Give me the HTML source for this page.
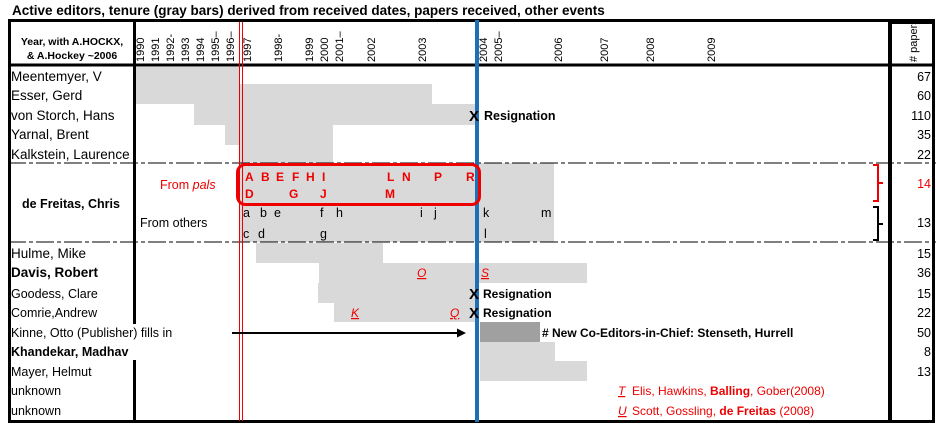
<!DOCTYPE html>
<html><head><style>
html,body{margin:0;padding:0;background:#fff;}
svg{display:block;}
text{font-family:"Liberation Sans",sans-serif;}
</style></head><body>
<svg width="936" height="425" viewBox="0 0 936 425" xmlns="http://www.w3.org/2000/svg">
<text x="12" y="15" font-size="13.5" font-weight="bold">Active editors, tenure (gray bars)  derived from received dates, papers received, other events</text>
<g fill="#d9d9d9">
<rect x="135" y="67" width="105" height="18"/>
<rect x="135" y="84" width="297" height="20"/>
<rect x="194" y="104" width="282" height="21"/>
<rect x="225" y="125" width="108" height="20"/>
<rect x="240" y="145" width="93" height="18"/>
<rect x="240" y="163" width="314" height="79"/>
<rect x="256" y="243" width="127" height="20"/>
<rect x="319" y="263" width="268" height="20"/>
<rect x="318" y="283" width="158" height="20"/>
<rect x="334" y="303" width="142" height="19"/>
<rect x="480" y="342" width="75" height="19"/>
<rect x="480" y="361" width="107" height="20"/>
</g>
<rect x="480" y="322" width="60" height="20" fill="#a0a0a0"/>
<line x1="8" y1="163" x2="936" y2="163" stroke="#000" stroke-width="1" stroke-dasharray="18,3,4,3"/>
<line x1="8" y1="242" x2="936" y2="242" stroke="#000" stroke-width="1" stroke-dasharray="18,3,4,3"/>
<rect x="9.5" y="20.5" width="924" height="401" fill="none" stroke="#000" stroke-width="3"/>
<line x1="134.5" y1="20" x2="134.5" y2="422" stroke="#000" stroke-width="3"/>
<line x1="890" y1="20" x2="890" y2="422" stroke="#000" stroke-width="4"/>
<line x1="9" y1="65" x2="934" y2="65" stroke="#000" stroke-width="3"/>
<line x1="239.5" y1="22" x2="239.5" y2="421" stroke="#e00" stroke-width="1"/>
<line x1="242.5" y1="22" x2="242.5" y2="421" stroke="#e00" stroke-width="1"/>
<line x1="477" y1="20" x2="477" y2="422" stroke="#1f6fb4" stroke-width="4"/>
<text x="72" y="45" font-size="10.5" font-weight="bold" text-anchor="middle">Year, with A.HOCKX,</text>
<text x="72" y="59" font-size="10.5" font-weight="bold" text-anchor="middle">&amp; A.Hockey ~2006</text>
<g font-size="11">
<text transform="translate(144,62) rotate(-90)">1990</text>
<text transform="translate(159,62) rotate(-90)">1991</text>
<text transform="translate(174,62) rotate(-90)">1992-</text>
<text transform="translate(189,62) rotate(-90)">1993</text>
<text transform="translate(204,62) rotate(-90)">1994</text>
<text transform="translate(219,62) rotate(-90)">1995–</text>
<text transform="translate(234,62) rotate(-90)">1996–</text>
<text transform="translate(251,62) rotate(-90)">1997</text>
<text transform="translate(282,62) rotate(-90)">1998-</text>
<text transform="translate(313,62) rotate(-90)">1999</text>
<text transform="translate(328,62) rotate(-90)">2000</text>
<text transform="translate(343,62) rotate(-90)">2001–</text>
<text transform="translate(375,62) rotate(-90)">2002</text>
<text transform="translate(426,62) rotate(-90)">2003</text>
<text transform="translate(487,62) rotate(-90)">2004</text>
<text transform="translate(502,62) rotate(-90)">2005–</text>
<text transform="translate(562,62) rotate(-90)">2006</text>
<text transform="translate(608,62) rotate(-90)">2007</text>
<text transform="translate(654,62) rotate(-90)">2008</text>
<text transform="translate(715,62) rotate(-90)">2009</text>
<text transform="translate(917,62) rotate(-90)"># papers</text>
</g>
<rect x="892" y="22" width="40" height="2" fill="#000"/>
<g font-size="13.5">
<text x="11" y="81">Meentemyer, V</text>
<text x="11" y="100">Esser, Gerd</text>
<text x="11" y="120">von Storch, Hans</text>
<text x="11" y="139">Yarnal, Brent</text>
<text x="11" y="159">Kalkstein, Laurence</text>
<text x="11" y="258">Hulme, Mike</text>
<text x="11" y="277" font-weight="bold">Davis, Robert</text>
</g>
<rect x="133" y="324" width="60" height="36" fill="#fff"/>
<g font-size="12.5">
<text x="11" y="298">Goodess, Clare</text>
<text x="11" y="317">Comrie,Andrew</text>
<text x="11" y="337">Kinne, Otto (Publisher) fills in</text>
<text x="11" y="356" font-weight="bold">Khandekar, Madhav</text>
<text x="11" y="376">Mayer, Helmut</text>
<text x="11" y="395">unknown</text>
<text x="11" y="415">unknown</text>
</g>
<text x="22" y="208" font-size="12.5" font-weight="bold">de Freitas, Chris</text>
<text x="160" y="189" font-size="12.5" fill="#e00">From <tspan font-style="italic">pals</tspan></text>
<text x="140" y="227" font-size="12.5">From others</text>
<rect x="237.5" y="164.5" width="242" height="40" rx="8" fill="none" stroke="#e00" stroke-width="3"/>
<g font-size="12" font-weight="bold" fill="#e00">
<text x="245" y="181">A</text><text x="261" y="181">B</text><text x="276" y="181">E</text><text x="292" y="181">F</text><text x="306" y="181">H</text><text x="322" y="181">I</text><text x="387" y="181">L</text><text x="402" y="181">N</text><text x="434" y="181">P</text><text x="466" y="181">R</text>
<text x="245" y="198">D</text><text x="289" y="198">G</text><text x="320" y="198">J</text><text x="385" y="198">M</text>
</g>
<g font-size="12.5">
<text x="243" y="217">a</text><text x="260" y="217">b</text><text x="274" y="217">e</text><text x="320" y="217">f</text><text x="336" y="217">h</text><text x="420" y="217">i</text><text x="434" y="217">j</text><text x="483" y="217">k</text><text x="541" y="217">m</text>
<text x="243" y="238">c</text><text x="258" y="238">d</text><text x="320" y="238">g</text><text x="484" y="238">l</text>
</g>
<path d="M873 165 H878 V183 H883 M878 183 V201 H873" fill="none" stroke="#e00" stroke-width="2"/>
<path d="M873 207 H878 V224 H883 M878 224 V240 H873" fill="none" stroke="#000" stroke-width="2"/>
<g font-size="12.5" text-anchor="end">
<text x="931" y="81">67</text><text x="931" y="100">60</text><text x="931" y="120">110</text><text x="931" y="139">35</text><text x="931" y="159">22</text>
<text x="931" y="188" fill="#e00">14</text><text x="931" y="227">13</text>
<text x="931" y="258">15</text><text x="931" y="277">36</text><text x="931" y="298">15</text><text x="931" y="317">22</text><text x="931" y="337">50</text><text x="931" y="356">8</text><text x="931" y="376">13</text>
</g>
<g font-weight="bold">
<text x="469" y="121" font-size="15">X</text><text x="484" y="120" font-size="12.5">Resignation</text>
<text x="469" y="299" font-size="15">X</text><text x="483" y="298" font-size="12">Resignation</text>
<text x="469" y="318" font-size="15">X</text><text x="483" y="317" font-size="12">Resignation</text>
<text x="542" y="337" font-size="12"># New Co-Editors-in-Chief: Stenseth, Hurrell</text>
</g>
<g font-size="12" font-style="italic" fill="#e00" text-decoration="underline">
<text x="417" y="277">O</text><text x="481" y="277">S</text>
<text x="351" y="317">K</text><text x="450" y="317">Q</text>
<text x="618" y="395">T</text><text x="618" y="415">U</text>
</g>
<g font-size="12" fill="#e00">
<text x="632" y="395">Elis, Hawkins, <tspan font-weight="bold">Balling</tspan>, Gober(2008)</text>
<text x="632" y="415">Scott, Gossling, <tspan font-weight="bold">de Freitas</tspan> (2008)</text>
</g>
<line x1="232" y1="333" x2="458" y2="333" stroke="#000" stroke-width="2"/>
<polygon points="466,333 457,328.5 457,337.5" fill="#000"/>
</svg>
</body></html>
